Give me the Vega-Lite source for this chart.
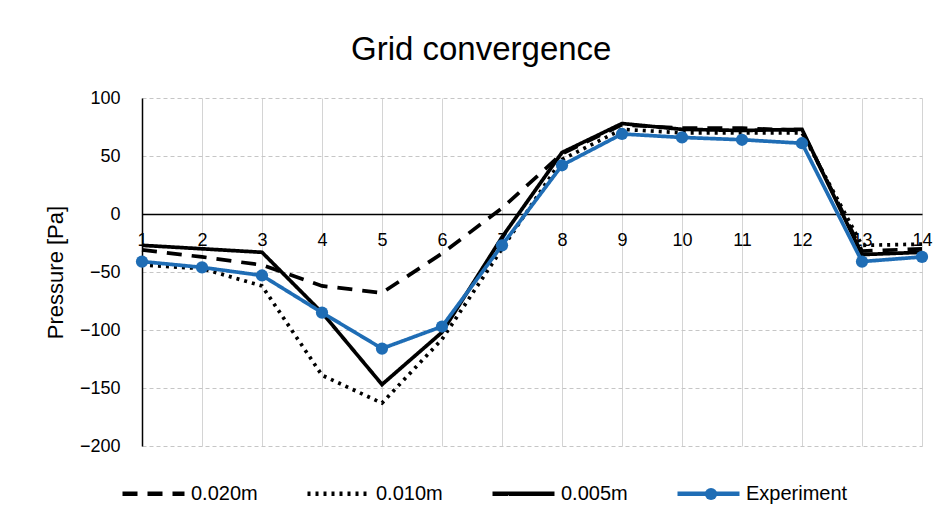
{
  "$schema": "https://vega.github.io/schema/vega-lite/v6.json",
  "width": 780,
  "height": 348,
  "autosize": {"type": "none"},
  "padding": {"left": 142, "top": 98, "right": 30, "bottom": 83},
  "background": "white",
  "title": {"text": "Grid convergence", "fontSize": 33, "font": "Liberation Sans", "fontWeight": "normal", "color": "#000000", "anchor": "middle", "frame": "bounds", "offset": 22, "dx": -7},
  "config": {"view": {"stroke": null}, "font": "Liberation Sans", "axis": {"labelColor": "#000000", "titleColor": "#000000", "labelFont": "Liberation Sans", "titleFont": "Liberation Sans"}, "legend": {"labelColor": "#000000", "labelFont": "Liberation Sans"}},
  "data": {"values": [
    {"x": 1, "v": -31, "s": "0.020m"}, {"x": 2, "v": -37, "s": "0.020m"}, {"x": 3, "v": -44, "s": "0.020m"}, {"x": 4, "v": -62, "s": "0.020m"}, {"x": 5, "v": -68, "s": "0.020m"}, {"x": 6, "v": -34, "s": "0.020m"}, {"x": 7, "v": 5, "s": "0.020m"}, {"x": 8, "v": 52, "s": "0.020m"}, {"x": 9, "v": 77, "s": "0.020m"}, {"x": 10, "v": 74, "s": "0.020m"}, {"x": 11, "v": 74, "s": "0.020m"}, {"x": 12, "v": 72, "s": "0.020m"}, {"x": 13, "v": -32, "s": "0.020m"}, {"x": 14, "v": -30, "s": "0.020m"},
    {"x": 1, "v": -44, "s": "0.010m"}, {"x": 2, "v": -47, "s": "0.010m"}, {"x": 3, "v": -62, "s": "0.010m"}, {"x": 4, "v": -139, "s": "0.010m"}, {"x": 5, "v": -163, "s": "0.010m"}, {"x": 6, "v": -108, "s": "0.010m"}, {"x": 7, "v": -30, "s": "0.010m"}, {"x": 8, "v": 47, "s": "0.010m"}, {"x": 9, "v": 73, "s": "0.010m"}, {"x": 10, "v": 70, "s": "0.010m"}, {"x": 11, "v": 70, "s": "0.010m"}, {"x": 12, "v": 70, "s": "0.010m"}, {"x": 13, "v": -27, "s": "0.010m"}, {"x": 14, "v": -26, "s": "0.010m"},
    {"x": 1, "v": -27, "s": "0.005m"}, {"x": 2, "v": -30, "s": "0.005m"}, {"x": 3, "v": -33, "s": "0.005m"}, {"x": 4, "v": -85, "s": "0.005m"}, {"x": 5, "v": -147, "s": "0.005m"}, {"x": 6, "v": -102, "s": "0.005m"}, {"x": 7, "v": -20, "s": "0.005m"}, {"x": 8, "v": 53, "s": "0.005m"}, {"x": 9, "v": 78, "s": "0.005m"}, {"x": 10, "v": 73, "s": "0.005m"}, {"x": 11, "v": 72, "s": "0.005m"}, {"x": 12, "v": 73, "s": "0.005m"}, {"x": 13, "v": -35, "s": "0.005m"}, {"x": 14, "v": -33, "s": "0.005m"},
    {"x": 1, "v": -41, "s": "Experiment"}, {"x": 2, "v": -46, "s": "Experiment"}, {"x": 3, "v": -53, "s": "Experiment"}, {"x": 4, "v": -85, "s": "Experiment"}, {"x": 5, "v": -116, "s": "Experiment"}, {"x": 6, "v": -97, "s": "Experiment"}, {"x": 7, "v": -27, "s": "Experiment"}, {"x": 8, "v": 42, "s": "Experiment"}, {"x": 9, "v": 69, "s": "Experiment"}, {"x": 10, "v": 66, "s": "Experiment"}, {"x": 11, "v": 64, "s": "Experiment"}, {"x": 12, "v": 61, "s": "Experiment"}, {"x": 13, "v": -41, "s": "Experiment"}, {"x": 14, "v": -37, "s": "Experiment"}
  ]},
  "resolve": {"axis": {"x": "independent"}},
  "layer": [
    {
      "mark": {"type": "line", "strokeWidth": 3.7, "strokeCap": "butt"},
      "encoding": {
        "x": {"field": "x", "type": "quantitative", "scale": {"domain": [1, 14], "nice": false, "zero": false},
          "axis": {"orient": "bottom", "offset": -232, "values": [1,2,3,4,5,6,7,8,9,10,11,12,13,14], "grid": false, "ticks": false, "domainColor": "#000000", "domainWidth": 1.5, "labelFontSize": 18, "labelPadding": 17, "labelFlush": false, "labelOverlap": false, "title": null}},
        "y": {"field": "v", "type": "quantitative", "scale": {"domain": [-200, 100], "nice": false},
          "axis": {"values": [-200, -150, -100, -50, 0, 50, 100], "grid": true, "gridDash": [4, 3], "gridColor": "#c6c6c6", "domainColor": "#000000", "domainWidth": 1.5, "ticks": false, "labelFontSize": 18, "labelPadding": 22, "title": "Pressure [Pa]", "titleFontSize": 22, "titleFontWeight": "normal", "titlePadding": 12}},
        "color": {"field": "s", "type": "nominal", "scale": {"domain": ["0.020m", "0.010m", "0.005m", "Experiment"], "range": ["#000000", "#000000", "#000000", "#1f6db5"]},
          "legend": {"orient": "none", "legendX": -22, "legendY": 362, "direction": "horizontal", "columns": 4, "title": null, "symbolType": "stroke", "symbolSize": 3844, "symbolStrokeWidth": 4.5, "labelFontSize": 20, "columnPadding": 40, "labelOffset": 4}},
        "strokeDash": {"field": "s", "type": "nominal", "scale": {"domain": ["0.020m", "0.010m", "0.005m", "Experiment"], "range": [[15, 10], [3, 5], [1, 0], [1, 0]]},
          "legend": {"orient": "none", "legendX": -22, "legendY": 362, "direction": "horizontal", "columns": 4, "title": null, "symbolType": "stroke", "symbolSize": 3844, "symbolStrokeWidth": 4.5, "labelFontSize": 20, "columnPadding": 40, "labelOffset": 4}}
      }
    },
    {
      "transform": [{"filter": "datum.s === 'Experiment'"}],
      "mark": {"type": "point", "filled": true, "size": 150, "color": "#1f6db5", "opacity": 1},
      "encoding": {
        "x": {"field": "x", "type": "quantitative", "scale": {"domain": [1, 14], "nice": false, "zero": false},
          "axis": {"orient": "top", "values": [1,2,3,4,5,6,7,8,9,10,11,12,13,14], "grid": true, "gridColor": "#d4d4d4", "gridWidth": 1, "ticks": false, "labels": false, "domain": false, "title": null}},
        "y": {"field": "v", "type": "quantitative"},
        "shape": {"field": "s", "type": "nominal", "scale": {"domain": ["Experiment"], "range": ["circle"]},
          "legend": {"orient": "none", "legendX": 559, "legendY": 386, "title": null, "symbolSize": 150, "symbolFillColor": "#1f6db5", "symbolStrokeColor": "#1f6db5", "symbolStrokeWidth": 0, "labelFontSize": 20, "labelExpr": "''", "symbolOpacity": 1}}
      }
    }
  ]
}
